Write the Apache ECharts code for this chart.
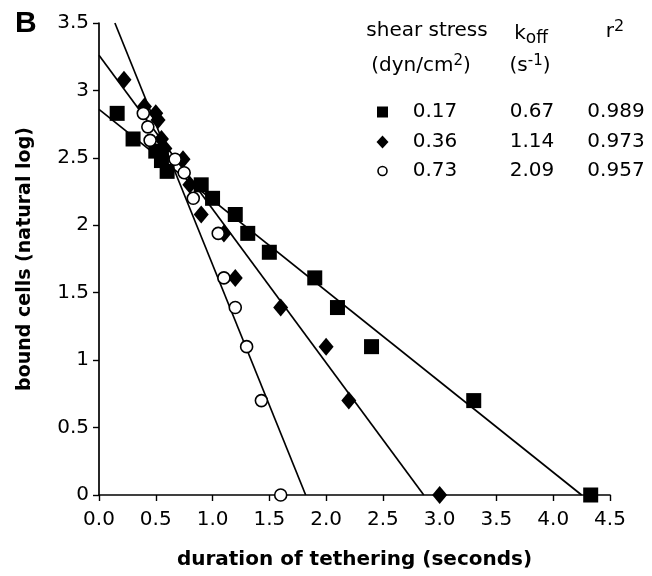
<!DOCTYPE html>
<html>
<head>
<meta charset="utf-8">
<script src="https://cdn.jsdelivr.net/npm/echarts@6/dist/echarts.min.js"></script>
<style>html,body{margin:0;padding:0;background:#fff;}#c{width:652px;height:576px;}</style>
</head>
<body>
<div id="c"></div>
<script>
// Data
var xTicks = ['0.0','0.5','1.0','1.5','2.0','2.5','3.0','3.5','4.0','4.5'];
var squares017 = [[0.16,2.83],[0.30,2.64],[0.50,2.55],[0.55,2.48],[0.60,2.40],[0.90,2.30],[1.00,2.20],[1.20,2.08],[1.31,1.94],[1.50,1.80],[1.90,1.61],[2.10,1.39],[2.40,1.10],[3.30,0.70],[4.33,0]];
var diamonds036 = [[0.22,3.08],[0.40,2.88],[0.50,2.83],[0.52,2.78],[0.55,2.64],[0.58,2.57],[0.74,2.49],[0.80,2.30],[0.90,2.08],[1.10,1.94],[1.20,1.61],[1.60,1.39],[2.00,1.10],[2.20,0.70],[3.00,0]];
var circles073 = [[0.39,2.83],[0.43,2.73],[0.45,2.63],[0.67,2.49],[0.75,2.39],[0.83,2.20],[1.05,1.94],[1.10,1.61],[1.20,1.39],[1.30,1.10],[1.43,0.70],[1.60,0]];
var fit017 = [[0,2.86],[4.25,0]];
var fit036 = [[0,3.26],[2.86,0]];
var fit073 = [[0.14,3.5],[1.82,0]];
var legendStress = ['0.17','0.36','0.73'];
var legendKoff = ['0.67','1.14','2.09'];
var legendR2 = ['0.989','0.973','0.957'];
var legendSymbols = ['rect','diamond','circle'];

var FONT = '"DejaVu Sans", Verdana, sans-serif';
var FONTB = '"Liberation Sans", Arial, sans-serif';
var chart = echarts.init(document.getElementById('c'), null, {renderer:'canvas'});

function lineSeries(d){
  return {type:'line', data:d, showSymbol:false, symbol:'none', silent:true, z:1,
    lineStyle:{color:'#000', width:1.7}, animation:false};
}

var graphics = [
  {type:'text', left:15, top:9, style:{text:'B', font:'bold 30px '+FONTB, fill:'#000'}},
  {type:'text', x:427, y:31, style:{text:'shear stress', font:'20px '+FONT, fill:'#000', textAlign:'center', textVerticalAlign:'middle'}},
  {type:'text', x:421, y:66, style:{text:'(dyn/cm{s|2})', font:'20px '+FONT, fill:'#000', textAlign:'center', textVerticalAlign:'middle',
      rich:{s:{fontSize:15, fontFamily:'DejaVu Sans', verticalAlign:'top', padding:[0,0,10,0]}}}},
  {type:'text', x:531, y:34, style:{text:'k{s|off}', font:'20px '+FONT, fill:'#000', textAlign:'center', textVerticalAlign:'middle',
      rich:{s:{fontSize:17, fontFamily:'DejaVu Sans', verticalAlign:'bottom', padding:[10,0,0,0]}}}},
  {type:'text', x:530, y:66, style:{text:'(s{s|-1})', font:'20px '+FONT, fill:'#000', textAlign:'center', textVerticalAlign:'middle',
      rich:{s:{fontSize:15, fontFamily:'DejaVu Sans', verticalAlign:'top', padding:[0,0,10,0]}}}},
  {type:'text', x:615, y:32, style:{text:'r{s|2}', font:'20px '+FONT, fill:'#000', textAlign:'center', textVerticalAlign:'middle',
      rich:{s:{fontSize:16, fontFamily:'DejaVu Sans', verticalAlign:'top', padding:[0,0,10,0]}}}}
];
var rowY = [112, 142, 171];
for (var i=0;i<3;i++){
  var y = rowY[i];
  if (legendSymbols[i]==='rect') graphics.push({type:'rect', shape:{x:377, y:y-5.5, width:11, height:11}, style:{fill:'#000'}});
  else if (legendSymbols[i]==='diamond') graphics.push({type:'polygon', shape:{points:[[382.5,y-6.5],[388.5,y],[382.5,y+6.5],[376.5,y]]}, style:{fill:'#000'}});
  else graphics.push({type:'circle', shape:{cx:382.5, cy:y, r:4.5}, style:{fill:'#fff', stroke:'#000', lineWidth:1.6}});
  graphics.push({type:'text', x:435, y:y, style:{text:legendStress[i], font:'20px '+FONT, fill:'#000', textAlign:'center', textVerticalAlign:'middle'}});
  graphics.push({type:'text', x:532, y:y, style:{text:legendKoff[i], font:'20px '+FONT, fill:'#000', textAlign:'center', textVerticalAlign:'middle'}});
  graphics.push({type:'text', x:616, y:y, style:{text:legendR2[i], font:'20px '+FONT, fill:'#000', textAlign:'center', textVerticalAlign:'middle'}});
}

chart.setOption({
  animation:false,
  backgroundColor:'#fff',
  grid:{left:99, right:42, top:23, bottom:81, containLabel:false},
  xAxis:{type:'value', min:0, max:4.5, interval:0.5,
    name:'duration of tethering (seconds)', nameLocation:'middle', nameGap:55,
    nameTextStyle:{fontFamily:'DejaVu Sans', fontWeight:'bold', fontSize:20, color:'#000'},
    axisLine:{show:true, onZero:false, lineStyle:{color:'#000', width:1.7}},
    axisTick:{show:true, inside:false, length:6, lineStyle:{color:'#000', width:1.4}},
    axisLabel:{fontFamily:'DejaVu Sans', fontSize:20, color:'#000', margin:15,
      formatter:function(v){ var k = Math.round(v/0.5); return xTicks[k]; }},
    splitLine:{show:false}},
  yAxis:{type:'value', min:0, max:3.5, interval:0.5,
    name:'bound cells (natural log)', nameLocation:'middle', nameGap:64, nameRotate:90,
    nameTextStyle:{fontFamily:'DejaVu Sans', fontWeight:'bold', fontSize:19, color:'#000'},
    axisLine:{show:true, onZero:false, lineStyle:{color:'#000', width:1.7}},
    axisTick:{show:true, inside:false, length:6, lineStyle:{color:'#000', width:1.4}},
    axisLabel:{fontFamily:'DejaVu Sans', fontSize:20, color:'#000', margin:10},
    splitLine:{show:false}},
  series:[
    lineSeries(fit017), lineSeries(fit036), lineSeries(fit073),
    {type:'scatter', name:'0.17', data:squares017, symbol:'rect', symbolSize:15, z:3,
      itemStyle:{color:'#000', opacity:1}},
    {type:'scatter', name:'0.36', data:diamonds036, symbol:'diamond', symbolSize:[15,18], z:4,
      itemStyle:{color:'#000', opacity:1}},
    {type:'scatter', name:'0.73', data:circles073, symbol:'circle', symbolSize:12, z:5,
      itemStyle:{color:'#fff', borderColor:'#000', borderWidth:1.6, opacity:1}}
  ],
  graphic:graphics
});
</script>
</body>
</html>
